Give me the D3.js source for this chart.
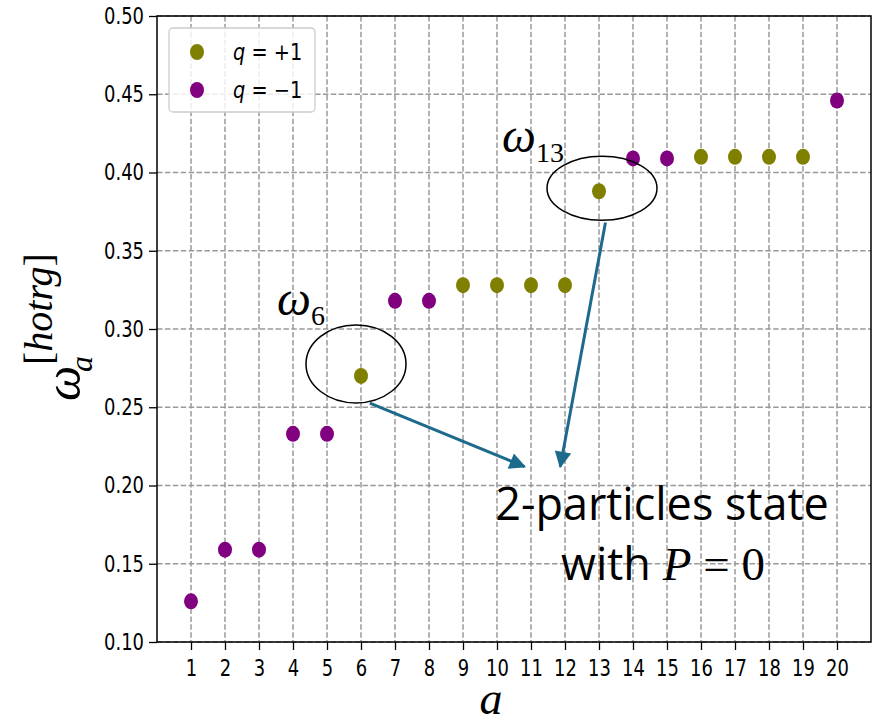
<!DOCTYPE html>
<html>
<head>
<meta charset="utf-8">
<script src="https://cdn.jsdelivr.net/npm/d3@7"></script>
<style>
  body { margin: 0; background: #fff; }
  svg { display: block; }
  .tick-label { font-family: "DejaVu Sans", sans-serif; font-size: 23px; fill: #000; }
  .math { font-family: "Liberation Serif", serif; font-style: italic; fill: #000; }
</style>
</head>
<body>
<svg id="chart"></svg>
<script>
// eigenvalue index a = 1..20
const indices = d3.range(1, 21);
// omega_a values
const omegaValues = [0.126, 0.159, 0.159, 0.233, 0.233, 0.270, 0.318, 0.318, 0.328, 0.328,
                     0.328, 0.328, 0.388, 0.409, 0.409, 0.410, 0.410, 0.410, 0.410, 0.446];
// charge of each state
const charges = [-1, -1, -1, -1, -1, +1, -1, -1, +1, +1,
                 +1, +1, +1, -1, -1, +1, +1, +1, +1, -1];
const yTicks = [0.10, 0.15, 0.20, 0.25, 0.30, 0.35, 0.40, 0.45, 0.50];
const legendItems = [{ q: +1, label: "q = +1" }, { q: -1, label: "q = \u22121" }];
// annotated states, arrow starts and where the arrows point (data coords)
const circled = [6, 13];
const arrowStarts = [[6.26, 0.2527], [13.19, 0.368]];
const arrowTargets = [[10.81, 0.212], [11.86, 0.212]];

const config = {
    width: 882, height: 721,
    margin: { top: 16, right: 11, bottom: 79, left: 157 }
};
const colors = { "1": "#808000", "-1": "#800080" };
const arrowColor = '#1d6a8c';

const width = config.width - config.margin.left - config.margin.right;
const height = config.height - config.margin.top - config.margin.bottom;

const svg = d3.select('#chart')
    .attr('width', config.width)
    .attr('height', config.height);

const chart = svg.append('g')
    .attr('transform', `translate(${config.margin.left},${config.margin.top})`);

const xScale = d3.scaleLinear().domain([0, 21]).range([0, width]);
const yScale = d3.scaleLinear().domain([0.10, 0.50]).range([height, 0]);

// dashed grid
const grid = chart.append('g').attr('class', 'grid')
    .attr('stroke', '#999').attr('stroke-width', 1.5).attr('stroke-dasharray', '5.5,2.4');
grid.selectAll('.gx').data(indices).join('line')
    .attr('x1', d => xScale(d)).attr('x2', d => xScale(d))
    .attr('y1', 0).attr('y2', height);
grid.selectAll('.gy').data(yTicks).join('line')
    .attr('x1', 0).attr('x2', width)
    .attr('y1', d => yScale(d)).attr('y2', d => yScale(d));

// axes
const xAxis = d3.axisBottom(xScale).tickValues(indices).tickSizeOuter(0).tickSize(8);
const yAxis = d3.axisLeft(yScale).tickValues(yTicks).tickSizeOuter(0).tickSize(8)
    .tickFormat(d3.format('.2f'));

const xAxisG = chart.append('g').attr('transform', `translate(0,${height})`).call(xAxis);
const yAxisG = chart.append('g').call(yAxis);

[xAxisG, yAxisG].forEach(g => {
    g.select('.domain').remove();
    g.selectAll('.tick line').attr('stroke', '#000').attr('stroke-width', 1.3);
    g.selectAll('.tick text').attr('class', 'tick-label').attr('fill', '#000');
});
// squeeze the labels horizontally like the original
xAxisG.selectAll('.tick text')
    .attr('dy', null).attr('dominant-baseline', 'hanging')
    .attr('transform', 'scale(0.78,1)')
    .attr('x', 0).attr('y', 17);
yAxisG.selectAll('.tick text')
    .attr('transform', 'scale(0.78,1)')
    .attr('x', -13 / 0.78);

// frame
chart.append('rect')
    .attr('width', width).attr('height', height)
    .attr('fill', 'none').attr('stroke', '#000').attr('stroke-width', 1.5);

// points
chart.selectAll('.pt').data(indices).join('ellipse')
    .attr('cx', d => xScale(d))
    .attr('cy', (d, i) => yScale(omegaValues[i]))
    .attr('rx', 7).attr('ry', 8)
    .attr('fill', (d, i) => colors[charges[i]]);

// legend
const legend = chart.append('g').attr('transform', 'translate(12,12)');
legend.append('rect')
    .attr('width', 146).attr('height', 84).attr('rx', 4)
    .attr('fill', '#fff').attr('fill-opacity', 0.8)
    .attr('stroke', '#ccc').attr('stroke-width', 1.3);
const items = legend.selectAll('.item').data(legendItems).join('g')
    .attr('transform', (d, i) => `translate(0,${24 + i * 38})`);
items.append('ellipse').attr('cx', 28).attr('cy', 0).attr('rx', 7).attr('ry', 8)
    .attr('fill', d => colors[d.q]);
items.append('text')
    .attr('transform', 'translate(64,8) scale(0.84,1)')
    .attr('font-family', 'DejaVu Sans, sans-serif').attr('font-size', 23)
    .each(function(d) {
        const t = d3.select(this);
        t.append('tspan').attr('font-style', 'italic').text('q');
        t.append('tspan').text(d.label.slice(1));
    });

// circled states
const ellipseShape = { 6: [-5, -12, 50, 39], 13: [3, -3, 55, 32] };
circled.forEach(a => {
    const [dx, dy, rx, ry] = ellipseShape[a];
    chart.append('ellipse')
        .attr('cx', xScale(a) + dx).attr('cy', yScale(omegaValues[a - 1]) + dy)
        .attr('rx', rx).attr('ry', ry)
        .attr('fill', 'none').attr('stroke', '#000').attr('stroke-width', 1.5);
});

// arrows
svg.append('defs').append('marker')
    .attr('id', 'head').attr('viewBox', '0 0 10 10')
    .attr('refX', 9).attr('refY', 5)
    .attr('markerWidth', 6).attr('markerHeight', 5.5)
    .attr('markerUnits', 'strokeWidth').attr('orient', 'auto')
    .append('path').attr('d', 'M0,0 L10,5 L0,10 Z').attr('fill', arrowColor);

arrowStarts.forEach((s, i) => {
    const t = arrowTargets[i];
    chart.append('line')
        .attr('x1', xScale(s[0])).attr('y1', yScale(s[1]))
        .attr('x2', xScale(t[0])).attr('y2', yScale(t[1]))
        .attr('stroke', arrowColor).attr('stroke-width', 3)
        .attr('marker-end', 'url(#head)');
});

// omega labels
function omegaLabel(x, y, sub) {
    const t = svg.append('text').attr('class', 'math')
        .attr('x', x).attr('y', y).attr('font-size', 48);
    t.append('tspan').text('\u03c9');
    t.append('tspan').attr('font-style', 'normal').attr('font-size', 28).attr('dy', 10).text(sub);
}
omegaLabel(277, 315, '6');
omegaLabel(502, 152, '13');

// callout text
svg.append('text')
    .attr('x', 662).attr('y', 520).attr('text-anchor', 'middle')
    .attr('font-family', 'Open Sans, sans-serif').attr('font-size', 45)
    .text('2-particles state');
const withText = svg.append('text')
    .attr('x', 663).attr('y', 580).attr('text-anchor', 'middle')
    .attr('font-size', 47);
withText.append('tspan').attr('font-family', 'Open Sans, sans-serif').attr('font-size', 45).text('with ');
withText.append('tspan').attr('class', 'math').text('P');
withText.append('tspan').attr('font-family', 'Liberation Serif, serif').text(' = 0');

// axis titles
svg.append('text').attr('class', 'math')
    .attr('x', 491).attr('y', 714).attr('text-anchor', 'middle')
    .attr('font-size', 46).text('a');

const yTitle = svg.append('g').attr('transform', 'translate(80,401) rotate(-90)');
yTitle.append('text').attr('class', 'math').attr('font-size', 50).text('\u03c9');
yTitle.append('text').attr('class', 'math').attr('font-size', 32)
    .attr('x', 29).attr('y', 12).text('a');
const sup = yTitle.append('text').attr('class', 'math').attr('font-size', 40)
    .attr('x', 36).attr('y', -28);
sup.append('tspan').attr('font-style', 'normal').text('[');
sup.append('tspan').text('hotrg');
sup.append('tspan').attr('font-style', 'normal').text(']');
</script>
</body>
</html>
